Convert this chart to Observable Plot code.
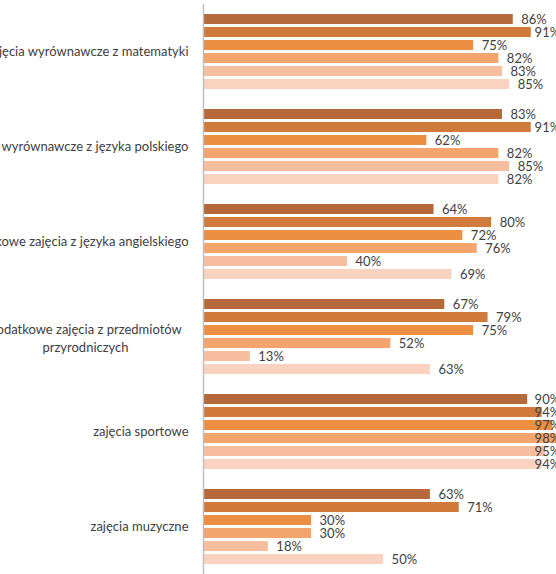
<!DOCTYPE html>
<html>
<head>
<meta charset="utf-8">
<script src="https://cdn.jsdelivr.net/npm/d3@7"></script>
<script src="https://cdn.jsdelivr.net/npm/@observablehq/plot@0.6"></script>
<style>
  html, body { margin: 0; padding: 0; background: #fff; overflow: hidden; }
  #chart svg { display: block; overflow: visible; }
</style>
</head>
<body>
<div id="chart"></div>
<script>
const categories = [
  "zajęcia wyrównawcze z matematyki",
  "zajęcia wyrównawcze z języka polskiego",
  "dodatkowe zajęcia z języka angielskiego",
  "dodatkowe zajęcia z przedmiotów\nprzyrodniczych",
  "zajęcia sportowe",
  "zajęcia muzyczne"
];
const series = ["s1", "s2", "s3", "s4", "s5", "s6"];
const matematyka   = [86, 91, 75, 82, 83, 85];
const polski       = [83, 91, 62, 82, 85, 82];
const angielski    = [64, 80, 72, 76, 40, 69];
const przyrodnicze = [67, 79, 75, 52, 13, 63];
const sportowe     = [90, 94, 97, 98, 95, 94];
const muzyczne     = [63, 71, 30, 30, 18, 50];
const colors = ["#B5693A", "#D07B3C", "#EC8F42", "#F4A46D", "#F7BD9F", "#F9D3C0"];

const rows = [matematyka, polski, angielski, przyrodnicze, sportowe, muzyczne];
const data = [];
categories.forEach((c, i) => rows[i].forEach((v, j) => data.push({category: c, series: series[j], value: v})));

const font = "Lato, 'Noto Sans', sans-serif";
const singleLine = categories.filter(c => !c.includes("\n"));
const multiLine = categories.filter(c => c.includes("\n"));

const chart = Plot.plot({
  width: 556,
  height: 574,
  marginLeft: 203,
  marginRight: 0,
  marginTop: 11,
  marginBottom: 7,
  style: {fontFamily: font, fontSize: "13px", background: "#fff"},
  x: {domain: [0, 98], axis: null},
  y: {domain: series, axis: null, paddingInner: 0.2, paddingOuter: 0},
  fy: {domain: categories, axis: null, paddingInner: 0.19, paddingOuter: 0},
  color: {domain: series, range: colors},
  marks: [
    Plot.barX(data, {x: "value", y: "series", fy: "category", fill: "series"}),
    Plot.ruleX([0], {stroke: "#bfbfbf", strokeWidth: 1.5, insetTop: -9.2, insetBottom: -9.2}),
    Plot.text(data, {
      x: d => Math.min(d.value, 89.7), y: "series", fy: "category",
      text: d => d.value + "%", dx: 8, textAnchor: "start", fill: "#404040",
      fontSize: 13
    }),
    Plot.text(singleLine, {fy: d => d, text: d => d, frameAnchor: "left", dx: -15, textAnchor: "end", fill: "#404040", fontSize: 13}),
    Plot.text(multiLine, {fy: d => d, text: d => d, frameAnchor: "left", dx: -118, textAnchor: "middle", lineHeight: 1.4, fill: "#404040", fontSize: 13})
  ]
});
document.getElementById("chart").appendChild(chart);
</script>
</body>
</html>
